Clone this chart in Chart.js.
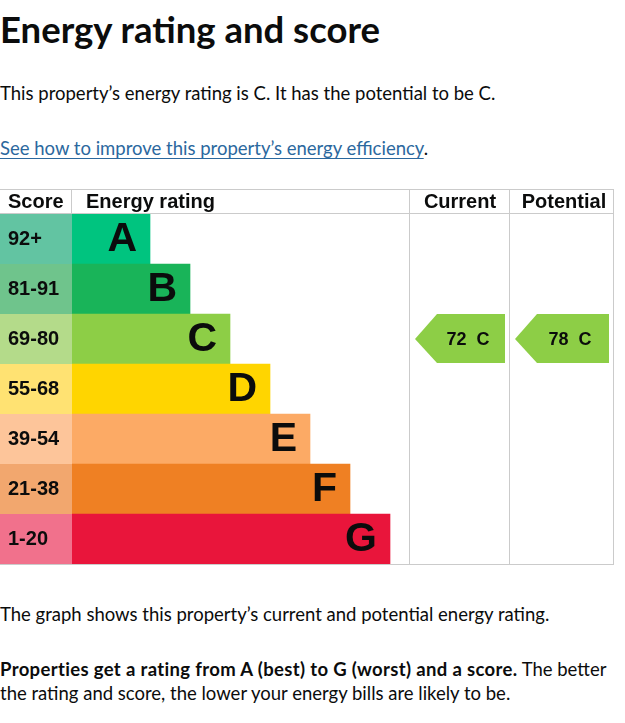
<!DOCTYPE html>
<html>
<head>
<meta charset="utf-8">
<script src="https://cdn.jsdelivr.net/npm/chart.js@4.4.1/dist/chart.umd.min.js"></script>
<style>
  body { margin: 0; background: #fff; color: #0b0c0c; font-family: Lato, "Noto Sans", sans-serif; }
  .t { position: absolute; left: 0; white-space: nowrap; line-height: 1; }
  #title { top: 11px; font-size: 36.5px; font-weight: 700; }
  #lead { top: 84px; font-size: 18.5px; }
  #link { top: 139px; font-size: 18.5px; }
  #link a { color: #2b689e; text-decoration: underline; text-underline-offset: 3px; }
  #note1 { top: 605px; font-size: 18.5px; }
  #note2 { top: 657px; font-size: 18.5px; line-height: 24px; }
  #note2 b { letter-spacing: 0.35px; }
  #wrap { position: absolute; left: 0; top: 185px; width: 625px; height: 385px; }
</style>
</head>
<body>
<div class="t" id="title">Energy rating and score</div>
<div class="t" id="lead">This property’s energy rating is C. It has the potential to be C.</div>
<div class="t" id="link"><a href="#">See how to improve this property’s energy efficiency</a>.</div>
<div id="wrap"><canvas id="epc" width="625" height="385"></canvas></div>
<div class="t" id="note1">The graph shows this property’s current and potential energy rating.</div>
<div class="t" id="note2"><b>Properties get a rating from A (best) to G (worst) and a score.</b> The better<br>the rating and score, the lower your energy bills are likely to be.</div>

<script>
/* ---- data ---------------------------------------------------------- */
const BANDS        = ['A', 'B', 'C', 'D', 'E', 'F', 'G'];
const SCORE_RANGES = ['92+', '81-91', '69-80', '55-68', '39-54', '21-38', '1-20'];
const BAND_MIN     = [92, 81, 69, 55, 39, 21, 1];
const BAND_LENGTH  = [2, 3, 4, 5, 6, 7, 8];           // relative bar length
const HEADERS      = ['Score', 'Energy rating', 'Current', 'Potential'];
const CURRENT      = 72;
const POTENTIAL    = 78;

const BAR_COLORS   = ['#00c47f', '#19b459', '#8dce46', '#ffd500', '#fcaa65', '#ef8023', '#e9153b'];
const SCORE_COLORS = ['#62c4a2', '#6fc48c', '#b4db8a', '#ffe272', '#fdc59a', '#f2a76e', '#f1718c'];
const LINE_COLOR   = '#cbcbcb';
const TEXT_COLOR   = '#0b0c0c';
const ARIAL        = '"Liberation Sans", Arial, sans-serif';

// x axis units: columns of the table
const X_MIN      = 0.05;
const X_MAX      = 13.6;
const COL_CUR    = 8.5;    // start of "Current" column
const COL_POT    = 11;     // start of "Potential" column

function bandOf(score) {
    return BAND_MIN.findIndex(m => score >= m);
}

/* ---- table decoration: score cells, grid, header --------------------- */
const tablePlugin = {
    id: 'epcTable',
    beforeDraw(chart) {
        const { ctx, chartArea: ca, scales: { x, y } } = chart;
        const rowH = y.getPixelForValue(1) - y.getPixelForValue(0);
        const top = 4, right = x.getPixelForValue(X_MAX);
        ctx.save();
        // score cells
        SCORE_COLORS.forEach((c, i) => {
            const cy = y.getPixelForValue(i);
            ctx.fillStyle = c;
            ctx.fillRect(0, cy - rowH / 2, ca.left, rowH);
        });
        // grid
        ctx.strokeStyle = LINE_COLOR;
        ctx.lineWidth = 1;
        ctx.beginPath();
        ctx.moveTo(0, top + 0.5); ctx.lineTo(right, top + 0.5);
        ctx.moveTo(0, ca.top - 0.5); ctx.lineTo(right, ca.top - 0.5);
        ctx.moveTo(0, ca.bottom + 0.5); ctx.lineTo(right, ca.bottom + 0.5);
        ctx.moveTo(ca.left - 0.5, top); ctx.lineTo(ca.left - 0.5, ca.top);
        [COL_CUR, COL_POT, X_MAX].forEach(v => {
            const px = Math.round(x.getPixelForValue(v)) - 0.5;
            ctx.moveTo(px, top); ctx.lineTo(px, ca.bottom + 1);
        });
        ctx.stroke();
        ctx.restore();
    },
    afterDatasetsDraw(chart) {
        const { ctx, chartArea: ca, scales: { x, y } } = chart;
        const meta = chart.getDatasetMeta(0);
        ctx.save();
        ctx.fillStyle = TEXT_COLOR;

        // band letters at the end of each bar
        ctx.font = `bold 41px ${ARIAL}`;
        ctx.textAlign = 'right';
        ctx.textBaseline = 'middle';
        meta.data.forEach((bar, i) => ctx.fillText(BANDS[i], bar.x - 13, bar.y + 1));

        // header row
        const hy = (4 + ca.top) / 2 + 1;
        ctx.font = `bold 20px ${ARIAL}`;
        ctx.textAlign = 'left';
        ctx.fillText(HEADERS[0], 8, hy);
        ctx.fillText(HEADERS[1], ca.left + 14, hy);
        ctx.textAlign = 'center';
        ctx.fillText(HEADERS[2], (x.getPixelForValue(COL_CUR) + x.getPixelForValue(COL_POT)) / 2, hy);
        ctx.fillText(HEADERS[3], (x.getPixelForValue(COL_POT) + x.getPixelForValue(X_MAX)) / 2 + 2, hy);

        // current / potential arrows
        const rowH = y.getPixelForValue(1) - y.getPixelForValue(0);
        [[CURRENT, COL_CUR, COL_POT], [POTENTIAL, COL_POT, X_MAX]].forEach(([score, c0, c1]) => {
            const b = bandOf(score);
            const cy = y.getPixelForValue(b);
            const l = x.getPixelForValue(c0) + 5;
            const r = x.getPixelForValue(c1) - 5;
            const t = cy - rowH / 2, btm = cy + rowH / 2 - 1;
            const tip = 22;
            ctx.fillStyle = BAR_COLORS[b];
            ctx.beginPath();
            ctx.moveTo(l, cy);
            ctx.lineTo(l + tip, t);
            ctx.lineTo(r, t);
            ctx.lineTo(r, btm);
            ctx.lineTo(l + tip, btm);
            ctx.closePath();
            ctx.fill();
            ctx.fillStyle = TEXT_COLOR;
            ctx.font = `bold 18px ${ARIAL}`;
            ctx.textAlign = 'center';
            ctx.fillText(`${score}  ${BANDS[b]}`, (l + tip + r) / 2 - 3, cy + 1);
        });
        ctx.restore();
    },
};

new Chart(document.getElementById('epc'), {
    type: 'bar',
    plugins: [tablePlugin],
    data: {
        labels: BANDS,
        datasets: [{
            data: BAND_LENGTH,
            base: X_MIN,
            backgroundColor: BAR_COLORS,
            borderWidth: 0,
            barPercentage: 1,
            categoryPercentage: 1,
        }],
    },
    options: {
        indexAxis: 'y',
        responsive: false,
        animation: false,
        layout: { padding: { top: 29, bottom: 6, left: 8, right: 11 } },
        plugins: { legend: { display: false }, tooltip: { enabled: false } },
        scales: {
            x: { type: 'linear', display: false, min: X_MIN, max: X_MAX },
            y: {
                grid: { display: false },
                border: { display: false },
                ticks: {
                    callback: (v, i) => SCORE_RANGES[i],
                    color: TEXT_COLOR,
                    font: { family: ARIAL, size: 20, weight: 'bold' },
                    crossAlign: 'far',
                    padding: 0,
                },
                afterFit(scale) {
                    scale.width = 64;
                    scale.paddingTop = 0;
                    scale.paddingBottom = 0;
                },
            },
        },
    },
});
</script>
</body>
</html>
